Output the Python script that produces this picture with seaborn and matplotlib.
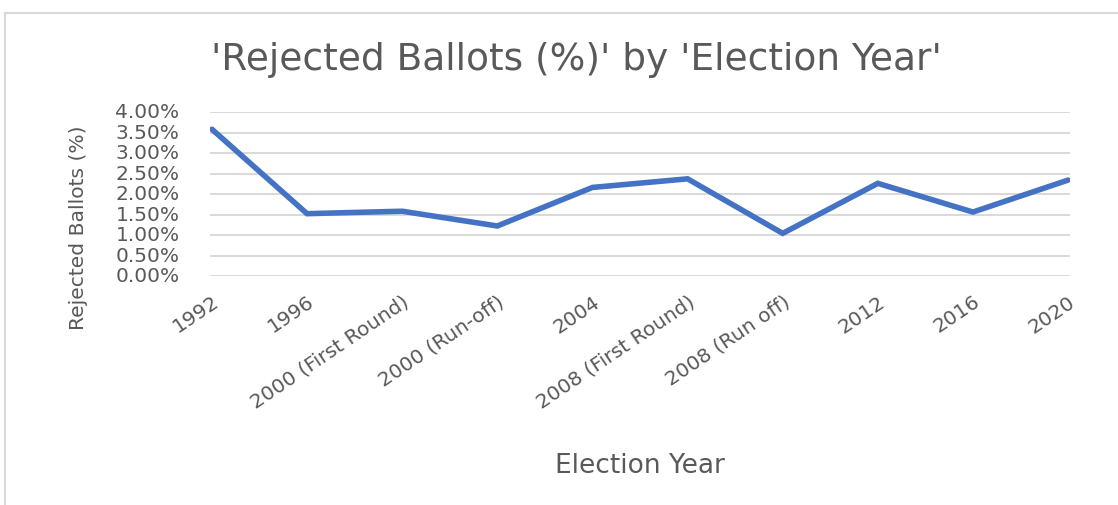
import matplotlib
matplotlib.use("Agg")
import matplotlib.pyplot as plt
import seaborn as sns
import pandas as pd
from matplotlib.ticker import FuncFormatter, MultipleLocator
from matplotlib.patches import Rectangle

years = ["1992", "1996", "2000 (First Round)", "2000 (Run-off)", "2004",
         "2008 (First Round)", "2008 (Run off)", "2012", "2016", "2020"]
rejected = [3.58, 1.52, 1.58, 1.22, 2.16, 2.37, 1.04, 2.26, 1.56, 2.34]

title = "'Rejected Ballots (%)' by 'Election Year'"
xlabel = "Election Year"
ylabel = "Rejected Ballots (%)"

sns.set_theme(style="white")
plt.rcParams['font.family'] = ['DejaVu Sans']

W, H = 1118, 506
TXT = "#595959"
fig = plt.figure(figsize=(W / 100, H / 100), dpi=100)
ax = fig.add_axes([210 / W, 1 - 277 / H, (1070 - 210) / W, (277 - 113) / H])

df = pd.DataFrame({"year": years, "pct": rejected})
sns.lineplot(data=df, x="year", y="pct", sort=False, ax=ax,
             color="#4472C4", linewidth=4.0, solid_joinstyle="miter")

ax.set_ylim(0, 4.0)
ax.set_xlim(-0.02, len(years) - 1 + 0.02)
ax.yaxis.set_major_locator(MultipleLocator(0.5))
ax.yaxis.set_major_formatter(FuncFormatter(lambda v, p: f"{v:.2f}%"))
ax.grid(axis="y", color="#d9d9d9", linewidth=1.4)
ax.grid(axis="x", visible=False)
ax.set_axisbelow(True)
for s in ax.spines.values():
    s.set_visible(False)
ax.tick_params(axis="both", length=0, colors=TXT)
ax.tick_params(axis="y", pad=22, labelsize=14.5)
ax.tick_params(axis="x", pad=11, labelsize=14.5)
for lab in ax.get_xticklabels():
    lab.set_rotation(34)
    lab.set_ha("right")
    lab.set_rotation_mode("anchor")
for lab in ax.get_yticklabels():
    lab.set_va("center")
ax.set_xlabel("")
ax.set_ylabel("")

fig.text(576 / W, 1 - 60 / H, title, ha="center", va="center",
         fontsize=27, color=TXT)
fig.text(640 / W, 1 - 466 / H, xlabel, ha="center", va="center",
         fontsize=19, color=TXT)
fig.text(78 / W, 1 - 228 / H, ylabel, ha="center", va="center", rotation=90,
         fontsize=14.6, color=TXT)

fig.patches.append(Rectangle((5 / W, -0.1), 1.2, 1 - 14 / H + 0.1,
                             transform=fig.transFigure, fill=False,
                             edgecolor="#d9d9d9", linewidth=1.5))

fig.savefig("out.png", dpi=100)
